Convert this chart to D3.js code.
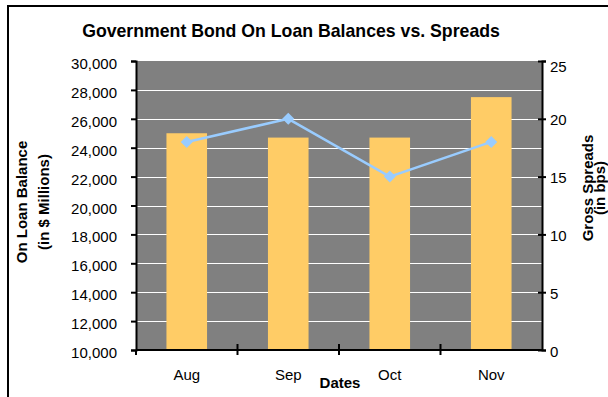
<!DOCTYPE html>
<html lang="en">
<head>
  <meta charset="UTF-8">
  <title>Government Bond On Loan Balances vs. Spreads</title>
  <script src="https://d3js.org/d3.v7.min.js"></script>
  <style>
    body { margin: 0; background: #fff; }
    svg { display: block; font-family: "Liberation Sans", Arial, sans-serif; }
  </style>
</head>
<body>
  <svg id="chart" width="608" height="397"></svg>
  <script>
    // Data
    const categories = ["Aug", "Sep", "Oct", "Nov"];
    const balances = [25000, 24700, 24700, 27500];   // on loan balance, $ millions
    const spreads = [18, 20, 15, 18];                 // gross spreads, bps
    const leftTicks = [10000, 12000, 14000, 16000, 18000, 20000, 22000, 24000, 26000, 28000, 30000];
    const rightTicks = [0, 5, 10, 15, 20, 25];

    const svg = d3.select("#chart");
    const plot = {left: 136, right: 542, top: 61, bottom: 350};

    // Chart border (runs off the right and bottom edges like the reference)
    svg.append("rect")
      .attr("x", 8).attr("y", 6)
      .attr("width", 700).attr("height", 500)
      .attr("fill", "none").attr("stroke", "#000").attr("stroke-width", 2);

    const x = d3.scaleBand().domain(categories)
      .range([plot.left, plot.right]).paddingInner(0.6).paddingOuter(0.3);
    const yL = d3.scaleLinear().domain([10000, 30000]).range([plot.bottom, plot.top]);
    const yR = d3.scaleLinear().domain([0, 25]).range([plot.bottom, plot.top]);

    // Plot area
    svg.append("rect")
      .attr("x", plot.left).attr("y", plot.top)
      .attr("width", plot.right - plot.left).attr("height", plot.bottom - plot.top)
      .attr("fill", "#808080");

    // Gridlines
    svg.append("g").selectAll("line")
      .data(leftTicks.filter(d => d > 10000 && d < 30000))
      .join("line")
      .attr("x1", plot.left).attr("x2", plot.right)
      .attr("y1", d => Math.round(yL(d)) + 0.5).attr("y2", d => Math.round(yL(d)) + 0.5)
      .attr("stroke", "#fff").attr("stroke-width", 1);

    // Bars
    svg.append("g").selectAll("rect")
      .data(categories)
      .join("rect")
      .attr("x", d => x(d))
      .attr("y", (d, i) => yL(balances[i]))
      .attr("width", x.bandwidth())
      .attr("height", (d, i) => plot.bottom - yL(balances[i]))
      .attr("fill", "#FFCC66");

    // Spread line
    const cx = d => x(d) + x.bandwidth() / 2;
    svg.append("path")
      .datum(categories)
      .attr("fill", "none")
      .attr("stroke", "#99CCFF")
      .attr("stroke-width", 2.5)
      .attr("d", d3.line().x(d => cx(d)).y((d, i) => yR(spreads[i])));

    svg.append("g").selectAll("path")
      .data(categories)
      .join("path")
      .attr("transform", (d, i) => `translate(${cx(d)},${yR(spreads[i])})`)
      .attr("d", "M0,-6L6,0L0,6L-6,0Z")
      .attr("fill", "#99CCFF");

    // Left axis
    const left = svg.append("g").attr("transform", `translate(${plot.left},0)`)
      .call(d3.axisLeft(yL).tickValues(leftTicks).tickFormat(d3.format(",")).tickSize(5).tickPadding(14));
    left.select(".domain").attr("stroke", "#000").attr("stroke-width", 2);
    left.selectAll(".tick line").attr("stroke", "#000").attr("stroke-width", 2);
    left.selectAll(".tick text").attr("font-size", 15).attr("fill", "#000").attr("dy", "0.5em");

    // Right axis
    const right = svg.append("g").attr("transform", `translate(${plot.right},0)`)
      .call(d3.axisRight(yR).tickValues(rightTicks).tickSize(4).tickPadding(4));
    right.select(".domain").attr("stroke", "#000").attr("stroke-width", 2);
    right.selectAll(".tick line").attr("x1", -4).attr("stroke", "#000").attr("stroke-width", 2);
    right.selectAll(".tick text").attr("font-size", 15).attr("fill", "#000")
      .attr("dy", d => d === 25 ? "0.7em" : "0.4em");

    // Bottom axis: ticks at category boundaries, labels centred in bands
    const bounds = d3.range(categories.length + 1).map(i => plot.left + i * x.step());
    svg.append("line")
      .attr("x1", plot.left).attr("x2", plot.right)
      .attr("y1", plot.bottom).attr("y2", plot.bottom)
      .attr("stroke", "#000").attr("stroke-width", 2);
    svg.append("g").selectAll("line")
      .data(bounds.slice(0, -1))
      .join("line")
      .attr("x1", d => d).attr("x2", d => d)
      .attr("y1", (d, i) => i === 0 ? plot.bottom : plot.bottom - 6)
      .attr("y2", plot.bottom + 5)
      .attr("stroke", "#000").attr("stroke-width", 2);
    svg.append("g").selectAll("text")
      .data(categories)
      .join("text")
      .attr("x", d => cx(d))
      .attr("y", 380)
      .attr("text-anchor", "middle")
      .attr("font-size", 15)
      .text(d => d);

    // Titles
    svg.append("text")
      .attr("x", 291).attr("y", 37)
      .attr("text-anchor", "middle")
      .attr("font-size", 17.7).attr("font-weight", "bold")
      .text("Government Bond On Loan Balances vs. Spreads");

    svg.append("text")
      .attr("x", 340).attr("y", 388)
      .attr("text-anchor", "middle")
      .attr("font-size", 15).attr("font-weight", "bold")
      .text("Dates");

    const leftTitle = svg.append("text")
      .attr("transform", "translate(27,202) rotate(-90)")
      .attr("text-anchor", "middle")
      .attr("font-size", 15).attr("font-weight", "bold");
    leftTitle.append("tspan").attr("x", 0).attr("y", 0).text("On Loan Balance");
    leftTitle.append("tspan").attr("x", 0).attr("y", 22).text("(in $ Millions)");

    const rightTitle = svg.append("text")
      .attr("transform", "translate(593,188) rotate(-90)")
      .attr("text-anchor", "middle")
      .attr("font-size", 15).attr("font-weight", "bold");
    rightTitle.append("tspan").attr("x", 0).attr("y", 0).text("Gross Spreads");
    rightTitle.append("tspan").attr("x", 0).attr("y", 12).text("(in bps)");
  </script>
</body>
</html>
